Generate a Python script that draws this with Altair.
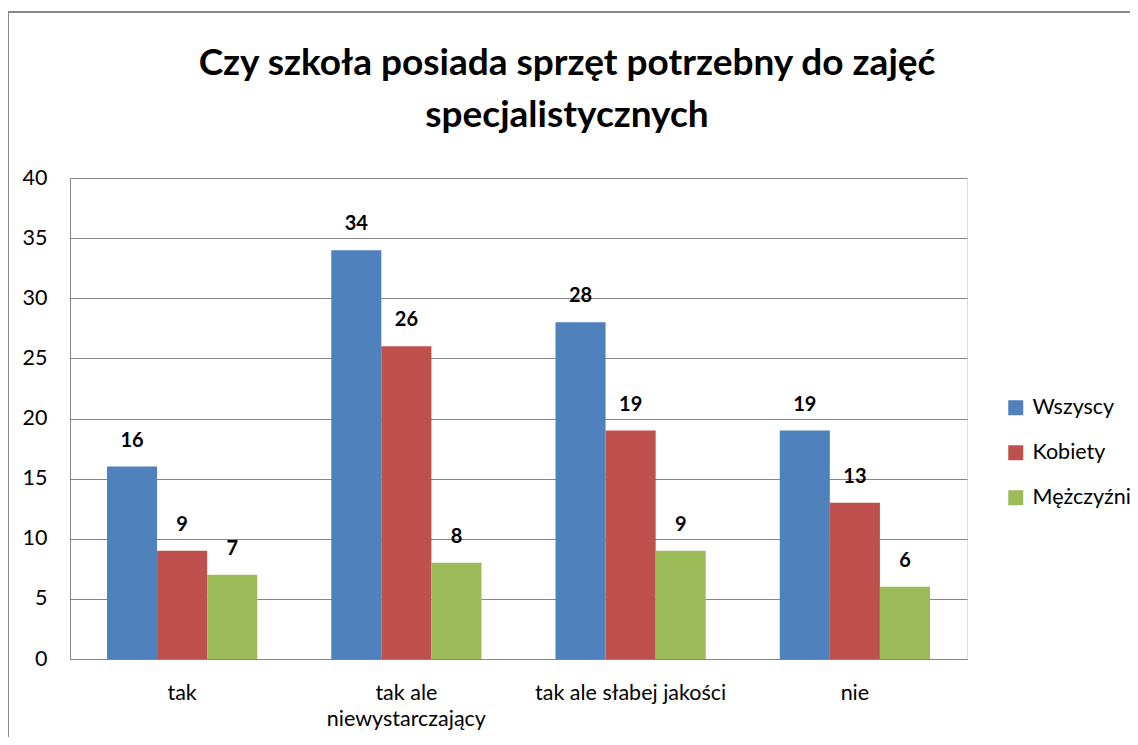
import altair as alt
import pandas as pd

categories = ["tak", "tak ale niewystarczający", "tak ale słabej jakości", "nie"]
series = ["Wszyscy", "Kobiety", "Mężczyźni"]
wszyscy = [16, 34, 28, 19]
kobiety = [9, 26, 19, 13]
mezczyzni = [7, 8, 9, 6]
colors = ["#4F81BD", "#C0504D", "#9BBB59"]
y_ticks = [0, 5, 10, 15, 20, 25, 30, 35, 40]
title_lines = ["Czy szkoła posiada sprzęt potrzebny do zajęć", "specjalistycznych"]

rows = []
for vals, s in zip([wszyscy, kobiety, mezczyzni], series):
    for c, v in zip(categories, vals):
        rows.append({"kategoria": c, "seria": s, "wartosc": v})
df = pd.DataFrame(rows)

FONT = "Lato"
AX = 21.5

x_enc = alt.X(
    "kategoria:N",
    sort=categories,
    scale=alt.Scale(paddingInner=0.33, paddingOuter=0.165),
    axis=alt.Axis(
        title=None,
        labelAngle=0,
        labelFontSize=AX,
        labelFont=FONT,
        labelColor="#000000",
        labelPadding=23,
        labelLineHeight=26,
        labelLimit=400,
        labelExpr="datum.value == 'tak ale niewystarczający' ? ['tak ale', 'niewystarczający'] : datum.value",
        ticks=False,
        domainColor="#868686",
        grid=False,
    ),
)
y_enc = alt.Y(
    "wartosc:Q",
    scale=alt.Scale(domain=[0, 40]),
    axis=alt.Axis(
        title=None,
        values=y_ticks,
        labelFontSize=AX,
        labelFont=FONT,
        labelColor="#000000",
        labelPadding=23,
        ticks=False,
        domainColor="#868686",
        gridColor="#868686",
        grid=True,
    ),
)
xoff = alt.XOffset("seria:N", sort=series)

bars = alt.Chart(df).mark_bar().encode(
    x=x_enc,
    y=y_enc,
    xOffset=xoff,
    color=alt.Color(
        "seria:N",
        sort=series,
        scale=alt.Scale(domain=series, range=colors),
        legend=alt.Legend(
            title=None,
            orient="none",
            legendX=935,
            legendY=219,
            labelFontSize=AX,
            labelFont=FONT,
            labelColor="#000000",
            symbolType="square",
            symbolSize=225,
            symbolStrokeWidth=0,
            rowPadding=22,
            labelOffset=6,
        ),
    ),
)

labels = alt.Chart(df).mark_text(
    fontSize=20, font=FONT, fontWeight="bold", baseline="middle", dy=-26, color="#000000"
).encode(
    x=alt.X("kategoria:N", sort=categories),
    y="wartosc:Q",
    xOffset=xoff,
    text="wartosc:Q",
)

one = pd.DataFrame({"a": [0]})

title = alt.Chart(one).mark_text(
    text=title_lines,
    fontSize=37,
    font=FONT,
    fontWeight="bold",
    color="#000000",
    align="center",
    baseline="alphabetic",
    lineHeight=52,
).encode(x=alt.value(497), y=alt.value(-103))

frame = alt.Chart(one).mark_rect(
    fill=None, stroke="#888888", strokeWidth=2
).encode(
    x=alt.value(-62), x2=alt.value(1130), y=alt.value(-166), y2=alt.value(622)
)

chart = alt.layer(bars, labels, title, frame).properties(
    width=897,
    height=481,
    autosize=alt.AutoSizeParams(type="none"),
    padding={"left": 62, "top": 170, "right": 163, "bottom": 78},
).configure_view(stroke=None).configure(background="#ffffff")

chart.save("out.html", embed_options={"renderer": "svg", "actions": False})
